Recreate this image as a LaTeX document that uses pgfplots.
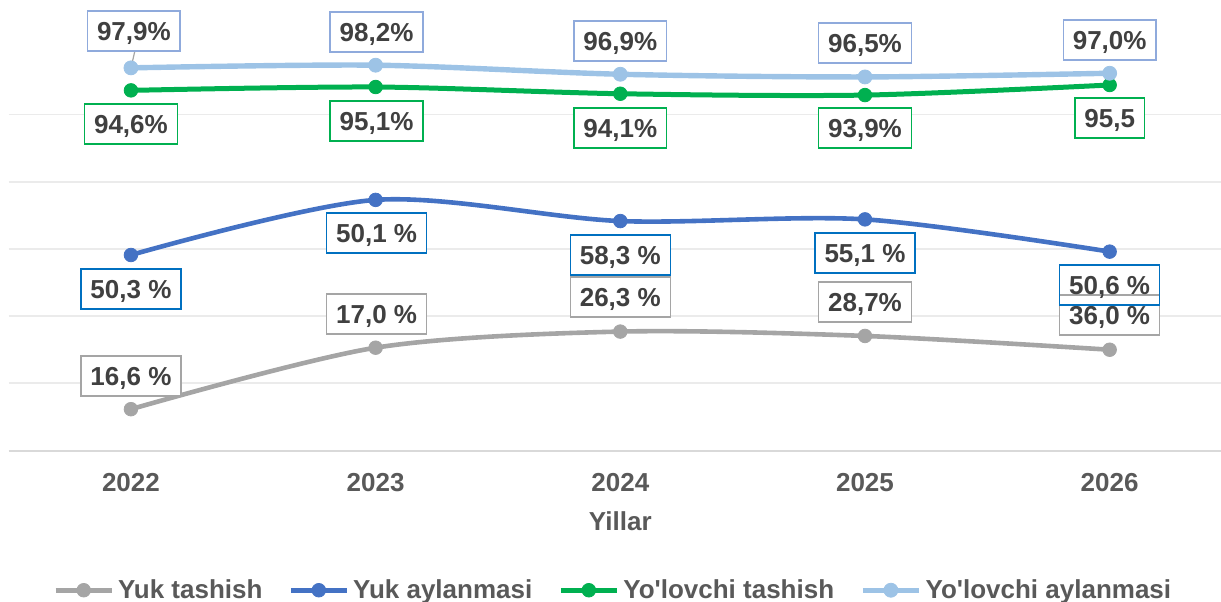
\documentclass[border=0pt]{standalone}
\usepackage{fontspec}
\setmainfont{Liberation Sans}
\usepackage{pgfplots}
\pgfplotsset{compat=1.18}

\definecolor{seriesgray}{HTML}{A5A5A5}
\definecolor{seriesblue}{HTML}{4472C4}
\definecolor{seriesgreen}{HTML}{00B050}
\definecolor{serieslight}{HTML}{9DC3E6}
\definecolor{boxblue}{HTML}{0070C0}
\definecolor{boxlight}{HTML}{8FAADC}
\definecolor{labeltext}{HTML}{404040}
\definecolor{axistext}{HTML}{595959}
\definecolor{gridc}{HTML}{EBEBEB}
\definecolor{axisc}{HTML}{D9D9D9}

\tikzset{
  lbl/.style={draw=#1, line width=0.75pt, fill=white, text=labeltext,
    inner xsep=4.75pt, inner ysep=5.3pt, text height=9.3pt, text depth=0pt},
}

\begin{document}
\begin{tikzpicture}[font=\fontsize{13}{15.6}\selectfont\bfseries]
\useasboundingbox (0,0) rectangle (610.5pt,300.5pt);
\begin{axis}[
  at={(4.3pt,75.25pt)}, anchor=south west,
  scale only axis, width=611.7pt, height=215pt,
  xmin=2021.5, xmax=2026.5, ymin=0, ymax=128,
  clip=false,
  axis x line*=bottom, axis y line*=left,
  x axis line style={draw=axisc, line width=1pt},
  y axis line style={draw=none},
  xtick={2022,2023,2024,2025,2026},
  xticklabels={\textbf{2022},\textbf{2023},\textbf{2024},\textbf{2025},\textbf{2026}},
  xtick style={draw=none},
  xticklabel style={anchor=base, yshift=-20.5pt, text=axistext},
  ytick={20,40,60,80,100},
  yticklabel=\empty,
  ytick style={draw=none},
  ymajorgrids,
  grid style={draw=gridc, line width=0.9pt},
  xlabel={Yillar},
  xlabel style={at={(axis description cs:0.5,0)}, anchor=base, yshift=-40pt, text=axistext},
  legend columns=4,
  legend cell align=left,
  legend style={at={(axis description cs:0.5,0)}, anchor=north, xshift=-3pt, yshift=-60.2pt,
    draw=none, fill=none, text=axistext,
    /tikz/every even column/.append style={column sep=11pt}},
  legend image code/.code={\draw[#1, mark repeat=2, mark phase=2]
    plot coordinates {(0pt,0pt) (14pt,0pt) (28pt,0pt)};},
]
\addplot[smooth, color=seriesgray, line width=2.3pt, mark=*, mark size=3.4pt,
  mark options={solid, line width=0.4pt}] coordinates {
  (2022,12.3) (2023,30.6) (2024,35.4) (2025,34.1) (2026,30.0)
};
\addlegendentry{Yuk tashish}
\addplot[smooth, color=seriesblue, line width=2.3pt, mark=*, mark size=3.4pt,
  mark options={solid, line width=0.4pt}] coordinates {
  (2022,58.2) (2023,74.6) (2024,68.3) (2025,68.8) (2026,59.2)
};
\addlegendentry{Yuk aylanmasi}
\addplot[smooth, color=seriesgreen, line width=2.5pt, mark=*, mark size=3.4pt,
  mark options={solid, line width=0.4pt}] coordinates {
  (2022,107.2) (2023,108.2) (2024,106.2) (2025,105.8) (2026,108.8)
};
\addlegendentry{Yo\textquotesingle lovchi tashish}
\addplot[smooth, color=serieslight, line width=2.7pt, mark=*, mark size=3.5pt,
  mark options={solid, line width=0.4pt}] coordinates {
  (2022,113.9) (2023,114.7) (2024,112.0) (2025,111.2) (2026,112.3)
};
\addlegendentry{Yo\textquotesingle lovchi aylanmasi}

% leader line of the first label
\draw[color=seriesgray, line width=0.6pt] (axis cs:2022.016,118.9) -- (axis cs:2022.003,114.8);

% Yo'lovchi aylanmasi
\node[lbl=boxlight] at (axis cs:2022.012,124.85) {97,9\%};
\node[lbl=boxlight] at (axis cs:2023.004,124.55) {98,2\%};
\node[lbl=boxlight] at (axis cs:2024,121.88) {96,9\%};
\node[lbl=boxlight] at (axis cs:2025,121.28) {96,5\%};
\node[lbl=boxlight] at (axis cs:2026,122.17) {97,0\%};
% Yo'lovchi tashish
\node[lbl=seriesgreen] at (axis cs:2022,97.17) {94,6\%};
\node[lbl=seriesgreen] at (axis cs:2023.004,98.07) {95,1\%};
\node[lbl=seriesgreen] at (axis cs:2024,95.98) {94,1\%};
\node[lbl=seriesgreen] at (axis cs:2025,95.98) {93,9\%};
\node[lbl=seriesgreen] at (axis cs:2026,98.96) {95,5};
% Yuk tashish
\node[lbl=seriesgray] at (axis cs:2022,22.17) {16,6 \%};
\node[lbl=seriesgray] at (axis cs:2023.004,40.63) {17,0 \%};
\node[lbl=seriesgray] at (axis cs:2024,45.68) {26,3 \%};
\node[lbl=seriesgray] at (axis cs:2025,44.20) {28,7\%};
\node[lbl=seriesgray] at (axis cs:2026,40.33) {36,0 \%};
% Yuk aylanmasi
\node[lbl=boxblue] at (axis cs:2022,48.07) {50,3 \%};
\node[lbl=boxblue] at (axis cs:2023.004,64.73) {50,1 \%};
\node[lbl=boxblue] at (axis cs:2024,58.18) {58,3 \%};
\node[lbl=boxblue] at (axis cs:2025,58.78) {55,1 \%};
\node[lbl=boxblue, fill=none] at (axis cs:2026,49.26) {50,6 \%};
\end{axis}
\end{tikzpicture}
\end{document}
